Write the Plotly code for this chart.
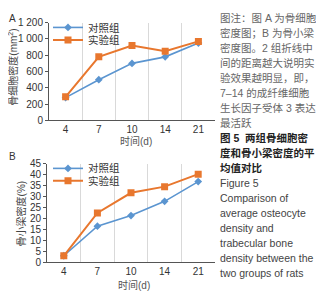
import plotly.graph_objects as go

# page is offset by the default 8px body margin
OFF = 8
W, H = 324 - OFF, 300 - OFF

days = ["4", "7", "10", "14", "21"]
a_control = [280, 500, 700, 780, 950]
a_exp = [290, 780, 920, 850, 970]
b_control = [3, 16.5, 21.3, 27.8, 36.8]
b_exp = [3, 22.5, 31.7, 34.5, 40.2]

a_ticks = [0, 200, 400, 600, 800, 1000, 1200]
a_ticktext = ["0", "200", "400", "600", "800", "1 000", "1 200"]
b_ticks = [0, 5, 10, 15, 20, 25, 30, 35, 40, 45]

series_names = ["对照组", "实验组"]
caption_lines = [
    ("图注：图 A 为骨细胞", "note"),
    ("密度图；B 为骨小梁", "note"),
    ("密度图。2 组折线中", "note"),
    ("间的距离越大说明实", "note"),
    ("验效果越明显，即，", "note"),
    ("7–14 的成纤维细胞", "note"),
    ("生长因子受体 3 表达", "note"),
    ("最活跃", "note"),
    ("图 5  两组骨细胞密", "bold"),
    ("度和骨小梁密度的平", "bold"),
    ("均值对比", "bold"),
    ("Figure 5", "en"),
    ("Comparison of", "en"),
    ("average osteocyte", "en"),
    ("density and", "en"),
    ("trabecular bone", "en"),
    ("density between the", "en"),
    ("two groups of rats", "en"),
]

BLUE = "#5B95D0"
ORANGE = "#E8772E"
FONT = "Liberation Sans, Arial, Noto Sans CJK SC, sans-serif"

def px(x):
    return (x - OFF) / W

def py(y):
    return 1 - (y - OFF) / H

fig = go.Figure()

def add_pair(ctrl, exp, xa, ya, lg1, lg2):
    fig.add_trace(go.Scatter(
        x=days, y=ctrl, name=series_names[0], mode="lines+markers",
        line=dict(color=BLUE, width=1.6),
        marker=dict(symbol="diamond", size=6, color=BLUE),
        xaxis=xa, yaxis=ya, legend=lg1, showlegend=True))
    fig.add_trace(go.Scatter(
        x=days, y=exp, name=series_names[1], mode="lines+markers",
        line=dict(color=ORANGE, width=2),
        marker=dict(symbol="square", size=7, color=ORANGE),
        xaxis=xa, yaxis=ya, legend=lg2, showlegend=True))

add_pair(a_control, a_exp, "x", "y", "legend", "legend2")
add_pair(b_control, b_exp, "x2", "y2", "legend3", "legend4")

xcommon = dict(type="category", tickson="boundaries", showgrid=True,
               gridcolor="#d9d9d9", gridwidth=1, showline=True,
               linecolor="#555", linewidth=1, ticks="", zeroline=False,
               range=[-0.5, 4.5],
               tickfont=dict(family=FONT, size=10, color="#333"))
ycommon = dict(showgrid=False, showline=True, linecolor="#555", linewidth=1,
               ticks="outside", ticklen=3, tickcolor="#555", zeroline=False,
               tickfont=dict(family=FONT, size=10, color="#333"))

fig.update_layout(
    width=W, height=H,
    margin=dict(l=0, r=0, t=0, b=0),
    paper_bgcolor="white", plot_bgcolor="white",
    showlegend=True,
    font=dict(family=FONT, size=10, color="#333"),
    xaxis=dict(domain=[px(49), px(215)], anchor="y", **xcommon),
    yaxis=dict(domain=[py(119), py(17)], anchor="x", range=[0, 1200],
               tickvals=a_ticks, ticktext=a_ticktext, **ycommon),
    xaxis2=dict(domain=[px(47), px(215)], anchor="y2", **xcommon),
    yaxis2=dict(domain=[py(267), py(164)], anchor="x2", range=[0, 45],
                tickvals=b_ticks, **ycommon),
)

legfont = dict(family=FONT, size=10.5, color="#333")
for name, ypx in [("legend", 22), ("legend2", 35), ("legend3", 169), ("legend4", 182)]:
    fig.update_layout({name: dict(x=px(48), y=py(ypx), xanchor="left", yanchor="middle",
                                  bgcolor="rgba(0,0,0,0)", font=legfont, visible=True,
                                  itemwidth=30, tracegroupgap=0)})

ann = []
ann.append(dict(text="A", x=px(12), y=py(13), font=dict(size=10, color="#333")))
ann.append(dict(text="B", x=px(12), y=py(157), font=dict(size=10, color="#333")))
ann.append(dict(text="骨细胞密度(mm<sup>2</sup>)", x=px(13), y=py(64), textangle=-90,
                font=dict(size=10, color="#444")))
ann.append(dict(text="骨小梁密度(%)", x=px(21), y=py(216), textangle=-90,
                font=dict(size=10, color="#444")))
ann.append(dict(text="时间(d)", x=px(136), y=py(140), font=dict(size=10, color="#555")))
ann.append(dict(text="时间(d)", x=px(134), y=py(291), font=dict(size=10, color="#555")))

for i, (line, kind) in enumerate(caption_lines):
    ypx = 12.5 + i * 15.6
    if kind == "note":
        t, c = line, "#666"
    elif kind == "bold":
        t, c = "<b>" + line + "</b>", "#222"
    else:
        t, c = line, "#444"
    ann.append(dict(text=t, x=px(218), y=py(ypx), xanchor="left",
                    font=dict(size=10.5, color=c)))

for a in ann:
    a.setdefault("xanchor", "center")
    a.update(xref="paper", yref="paper", yanchor="middle", showarrow=False)
    a["font"]["family"] = FONT
fig.update_layout(annotations=ann)

fig.write_html("out.html")
